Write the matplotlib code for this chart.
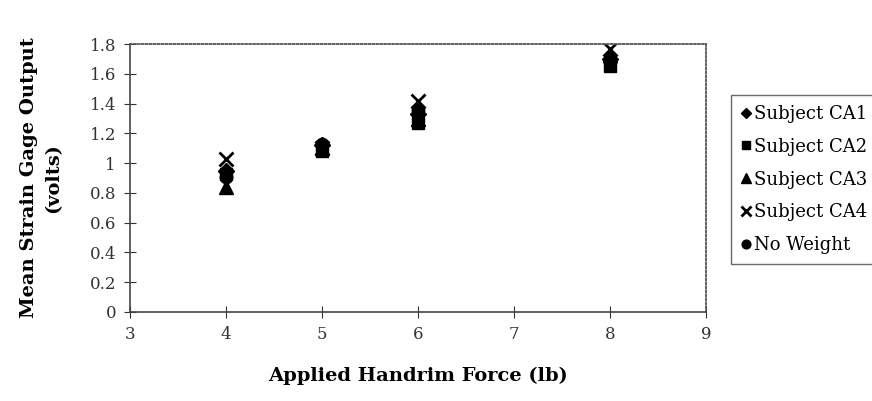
import matplotlib.pyplot as plt
from matplotlib.ticker import FuncFormatter

plt.rcParams['font.family'] = ['DejaVu Serif']

force = [4, 5, 6, 8]
ca1 = [0.95, 1.12, 1.33, 1.70]
ca2 = [0.93, 1.08, 1.27, 1.65]
ca3 = [0.84, 1.10, 1.30, 1.73]
ca4 = [1.03, 1.10, 1.42, 1.77]
no_weight = [0.91, 1.13, 1.36, 1.68]

series = [
    ("Subject CA1", ca1, "D", 8),
    ("Subject CA2", ca2, "s", 9),
    ("Subject CA3", ca3, "^", 10),
    ("Subject CA4", ca4, "x", 10),
    ("No Weight", no_weight, "o", 9),
]

fig = plt.figure(figsize=(8.72, 4.01), dpi=100)
ax = fig.add_axes([0.149, 0.222, 0.661, 0.668])

for label, vals, m, s in series:
    if m == "x":
        ax.plot(force, vals, linestyle="none", marker=m, markersize=s,
                color="black", markeredgewidth=2, label=label)
    else:
        ax.plot(force, vals, linestyle="none", marker=m, markersize=s,
                color="black", label=label)

ax.set_xlim(3, 9)
ax.set_ylim(0, 1.8)
ax.set_xticks(range(3, 10))
ax.set_yticks([i * 0.2 for i in range(10)])
ax.yaxis.set_major_formatter(FuncFormatter(lambda v, p: "%g" % round(v, 1)))
ax.tick_params(direction="inout", length=8, width=0.8, labelsize=12, pad=6, colors="#333333")

for side in ["top", "right"]:
    ax.spines[side].set_linestyle((0, (1, 1.2)))
    ax.spines[side].set_linewidth(1.3)
    ax.spines[side].set_color("#555555")
for side in ["left", "bottom"]:
    ax.spines[side].set_color("#444444")
    ax.spines[side].set_linewidth(1.2)

ax.set_xlabel("Applied Handrim Force (lb)", fontsize=14, fontweight="bold", labelpad=17)
ax.set_ylabel("Mean Strain Gage Output\n(volts)", fontsize=14, fontweight="bold",
              labelpad=20, linespacing=1.4)

leg = fig.legend(loc="upper left", bbox_to_anchor=(0.838, 0.763), fontsize=13,
                 frameon=True, fancybox=False, edgecolor="#444444", handlelength=0.6,
                 handletextpad=0.15, labelspacing=0.82, borderpad=0.55, markerscale=0.7,
                 borderaxespad=0)
leg.get_frame().set_linewidth(1.0)

fig.savefig("out.png", dpi=100)
